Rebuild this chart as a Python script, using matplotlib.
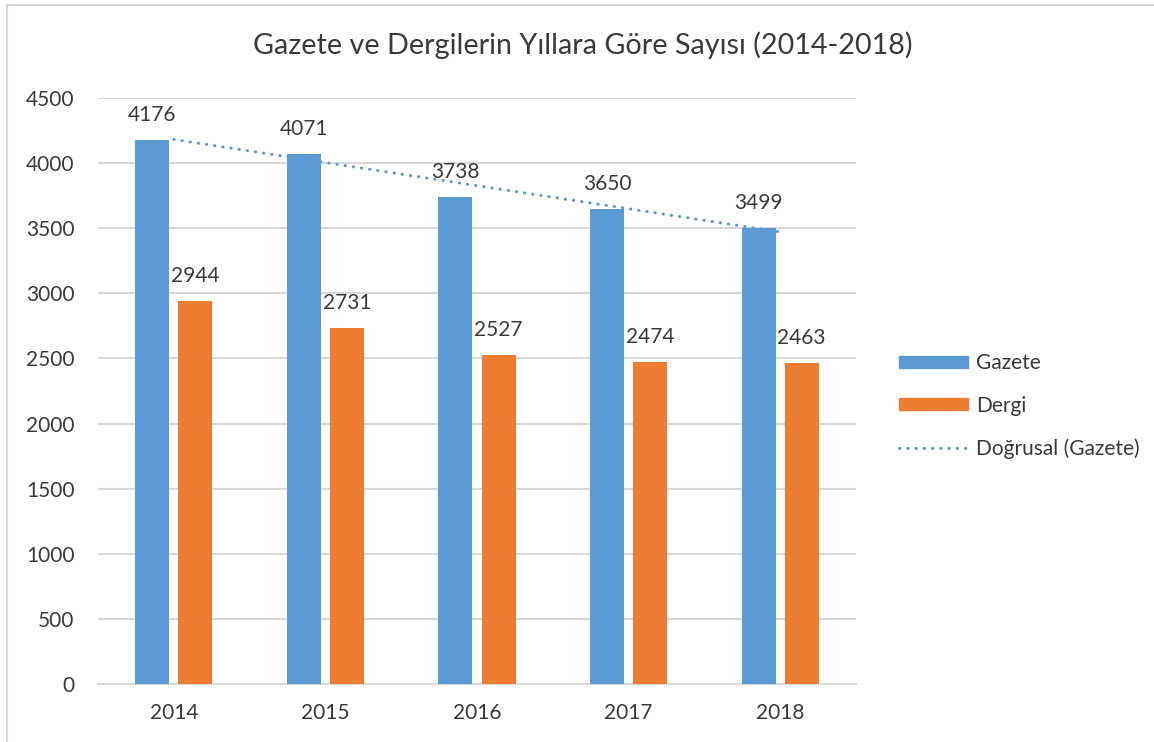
import numpy as np
import matplotlib
matplotlib.use("Agg")
import matplotlib.pyplot as plt
from matplotlib.patches import Patch
from matplotlib.lines import Line2D

plt.rcParams['font.family'] = ['Lato', 'DejaVu Sans']

years = ['2014', '2015', '2016', '2017', '2018']
gazete = [4176, 4071, 3738, 3650, 3499]
dergi = [2944, 2731, 2527, 2474, 2463]
title = 'Gazete ve Dergilerin Yıllara Göre Sayısı (2014-2018)'
yticks = [0, 500, 1000, 1500, 2000, 2500, 3000, 3500, 4000, 4500]

BLUE = '#5B9BD5'
ORANGE = '#ED7D31'
TXT = '#3A3A3A'
GRID = '#D9D9D9'

W, H = 1154, 742
fig = plt.figure(figsize=(W / 100, H / 100), dpi=100)
ax = fig.add_axes([98 / W, (H - 684) / H, (856 - 98) / W, (684 - 98) / H])

x = np.arange(len(years))
bw = 0.224
off = 0.142
b1 = ax.bar(x - off, gazete, bw, color=BLUE, zorder=3)
b2 = ax.bar(x + off, dergi, bw, color=ORANGE, zorder=3)

# linear trendline for Gazete
coef = np.polyfit(x, gazete, 1)
tr = np.polyval(coef, x)
DOT = (0, (0.1, 2.6))
ax.plot(x, tr, color=BLUE, lw=2.2, linestyle=DOT,
        dash_capstyle='round', zorder=4)

fs = 15
for xi, v in zip(x - off, gazete):
    ax.annotate(str(v), (xi, v), xytext=(0, 18), textcoords='offset points',
                ha='center', va='center', fontsize=fs, color=TXT, zorder=5)
for xi, v in zip(x + off, dergi):
    ax.annotate(str(v), (xi, v), xytext=(0, 18), textcoords='offset points',
                ha='center', va='center', fontsize=fs, color=TXT, zorder=5)

ax.set_xlim(-0.5, len(years) - 0.5)
ax.set_ylim(0, 4500)
ax.set_yticks(yticks)
ax.set_yticklabels([str(t) for t in yticks])
ax.set_xticks(x)
ax.set_xticklabels(years)
ax.tick_params(axis='both', length=0, labelsize=fs, labelcolor=TXT)
ax.tick_params(axis='y', pad=17)
ax.tick_params(axis='x', pad=14)
ax.grid(axis='y', color=GRID, lw=1.5, zorder=0)
ax.set_axisbelow(True)
for s in ['top', 'right', 'left']:
    ax.spines[s].set_visible(False)
ax.spines['bottom'].set_color(GRID)
ax.spines['bottom'].set_linewidth(1.5)

fig.text(583 / W, 1 - 45 / H, title, ha='center', va='center',
         fontsize=20.7, color=TXT)

handles = [Patch(color=BLUE), Patch(color=ORANGE),
           Line2D([0], [0], color=BLUE, lw=2.2, linestyle=DOT,
                  dash_capstyle='round')]
labels = ['Gazete', 'Dergi', 'Doğrusal (Gazete)']
leg = fig.legend(handles, labels, loc='center left',
                 bbox_to_anchor=(880 / W, 1 - 406 / H), frameon=False,
                 fontsize=fs, labelcolor=TXT, handlelength=3.3,
                 handleheight=0.5, handletextpad=0.4, labelspacing=1.08)

# chart border (left and top)
fig.add_artist(Line2D([7 / W, 7 / W], [0, 1 - 5 / H], transform=fig.transFigure,
                      color=GRID, lw=1.5))
fig.add_artist(Line2D([7 / W, 1], [1 - 5 / H, 1 - 5 / H], transform=fig.transFigure,
                      color=GRID, lw=1.5))

fig.savefig('out.png', dpi=100, facecolor='white')
